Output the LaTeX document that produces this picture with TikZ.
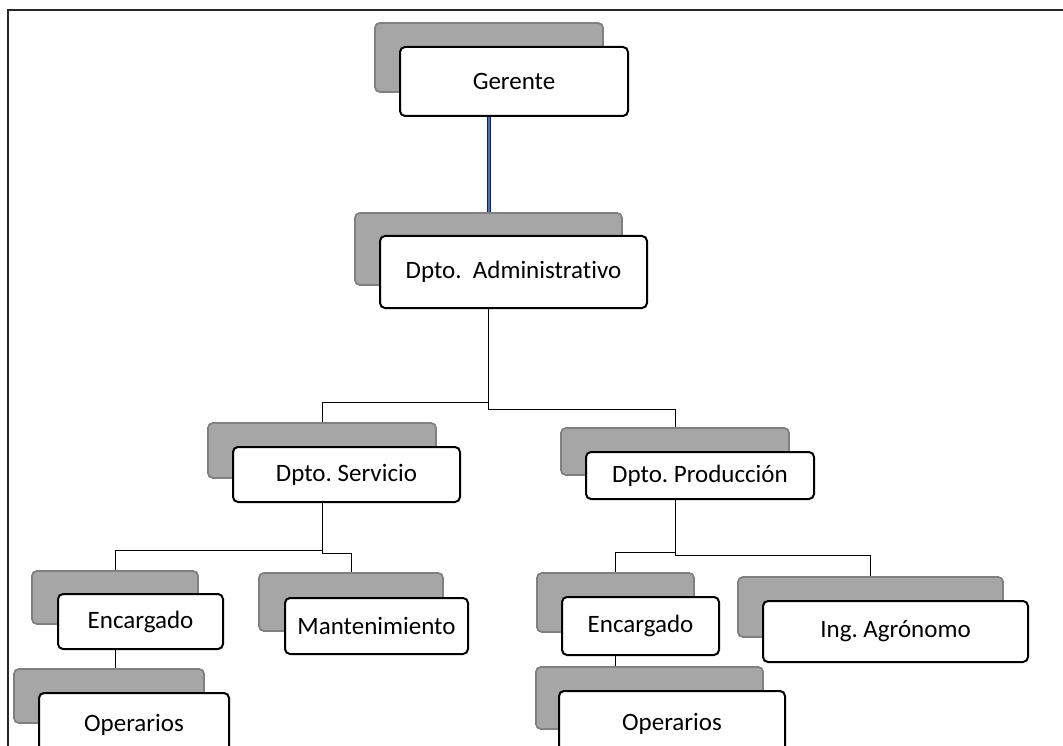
\documentclass[tikz,border=0pt]{standalone}
\usepackage{fontspec}
\setmainfont[Ligatures={NoCommon,NoRare}]{Carlito}
\frenchspacing
\begin{document}
\begin{tikzpicture}[x=1pt,y=-1pt,
  shad/.style={draw=black!50, fill=black!35, line width=1.6pt, rounded corners=5pt, inner sep=0pt},
  box/.style={draw=black, fill=white, line width=2pt, rounded corners=5pt, inner sep=0pt,
    font=\fontsize{25}{29}\selectfont\frenchspacing, text=black},
  conn/.style={draw=black, line width=1pt},
  frame/.style={draw=black!85, line width=2.2pt}]
\useasboundingbox (0,0) rectangle (1063,746);
\clip (0,0) rectangle (1063,746);
\coordinate (fTL) at (8,10);
\coordinate (fTR) at (1063,10);
\coordinate (fBL) at (8,746);
\draw[frame] (fTR) -- (fTL) -- (fBL);
% shadow nodes
\node[shad, minimum width=228, minimum height=69] (gerS) at (489,57.5) {};
\node[shad, minimum width=267, minimum height=72] (admS) at (488.5,249) {};
\node[shad, minimum width=228, minimum height=55] (serS) at (322,450.5) {};
\node[shad, minimum width=228, minimum height=47] (proS) at (675,451.5) {};
\node[shad, minimum width=166, minimum height=53] (enc1S) at (115,597.5) {};
\node[shad, minimum width=184, minimum height=58] (manS) at (351,602) {};
\node[shad, minimum width=190, minimum height=54] (op1S) at (109,696) {};
\node[shad, minimum width=157, minimum height=59] (enc2S) at (615.5,602.5) {};
\node[shad, minimum width=265, minimum height=60] (ingS) at (870.5,607) {};
\node[shad, minimum width=227, minimum height=62] (op2S) at (649.5,698) {};
% bend levels
\coordinate (yA) at (0,402);
\coordinate (yB) at (0,409);
\coordinate (yC) at (0,550);
\coordinate (yD) at (0,553);
\coordinate (yE) at (0,552);
\coordinate (yF) at (0,555);
% connectors
\draw[line width=3.2pt, draw={rgb,255:red,20;green,35;blue,70}] (gerS.center) -- (gerS.center |- admS.north);
\draw[line width=1.2pt, draw={rgb,255:red,68;green,114;blue,196}] (gerS.center) -- (gerS.center |- admS.north);
\draw[conn] (admS.center) |- (yA -| serS.north) -- (serS.north);
\draw[conn] (admS.center) |- (yB -| proS.north) -- (proS.north);
\draw[conn] (serS.center) |- (yC -| enc1S.north) -- (enc1S.north);
\draw[conn] (serS.center) |- (yD -| manS.north) -- (manS.north);
\draw[conn] (proS.center) |- (yE -| enc2S.north) -- (enc2S.north);
\draw[conn] (proS.center) |- (yF -| ingS.north) -- (ingS.north);
\draw[conn] (enc1S.center) -- (enc1S.center |- op1S.north);
\draw[conn] (enc2S.center) -- (enc2S.center |- op2S.north);
% redraw shadows over connector ends
\foreach \n/\w/\h/\x/\y in {gerS/228/69/489/57.5, admS/267/72/488.5/249, serS/228/55/322/450.5, proS/228/47/675/451.5,
  enc1S/166/53/115/597.5, manS/184/58/351/602, op1S/190/54/109/696, enc2S/157/59/615.5/602.5, ingS/265/60/870.5/607, op2S/227/62/649.5/698}
  \node[shad, minimum width=\w, minimum height=\h] at (\x,\y) {};
% front boxes
\node[box, minimum width=228, minimum height=69] (ger) at (514,81.5) {Gerente};
\node[box, minimum width=267, minimum height=72] (adm) at (513.5,272) {Dpto.\ \ Administrativo};
\node[box, minimum width=227, minimum height=55] (ser) at (346.5,474.5) {Dpto. Servicio};
\node[box, minimum width=228, minimum height=47] (pro) at (700,475.5) {Dpto. Producción};
\node[box, minimum width=165, minimum height=55] (enc1) at (140.5,621.5) {Encargado};
\node[box, minimum width=183, minimum height=56] (man) at (376.5,626) {Mantenimiento};
\node[box, minimum width=190, minimum height=70] (op1) at (134,728) {\raisebox{10pt}{Operarios}};
\node[box, minimum width=157, minimum height=58] (enc2) at (640.5,626) {Encargado};
\node[box, minimum width=265, minimum height=61] (ing) at (895.5,631.5) {Ing. Agrónomo};
\node[box, minimum width=226, minimum height=70] (op2) at (672,726) {\raisebox{8pt}{Operarios}};
\end{tikzpicture}
\end{document}
